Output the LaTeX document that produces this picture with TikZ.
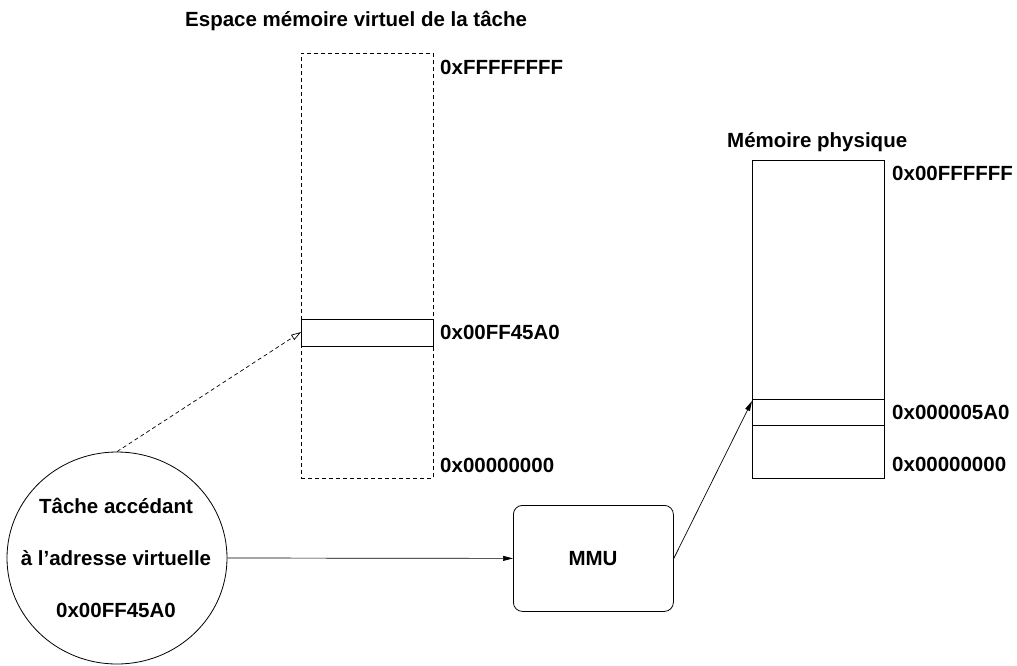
\documentclass[tikz,border=0pt]{standalone}
\usepackage{fontspec}
\setmainfont{Liberation Sans}
\usetikzlibrary{arrows.meta,shapes.geometric}
\tikzset{
  lbl/.style={inner sep=0pt, anchor=base west, font=\fontsize{20.5}{24}\selectfont\bfseries},
  ctxt/.style={inner sep=0pt, anchor=base, font=\fontsize{20.5}{24}\selectfont\bfseries},
  memline/.style={line width=0.8pt},
  dashline/.style={line width=0.8pt, dash pattern=on 4pt off 3pt},
  conn/.style={line width=0.7pt, -{Triangle[length=10pt,width=5pt]}},
}
\begin{document}
\begin{tikzpicture}[x=1pt,y=-1pt]
\useasboundingbox (0,0) rectangle (1017,665);
% virtual space
\node[draw, dashline, minimum width=132pt, minimum height=425pt, inner sep=0pt, anchor=north west] (vbox) at (301,53) {};
\node[draw, memline, minimum width=132pt, minimum height=27pt, inner sep=0pt, anchor=north west] (vblk) at (301,319) {};
\node[lbl] (vtitle) at (185,26) {Espace mémoire virtuel de la tâche};
\node[lbl] (vtop) at (440,74) {0xFFFFFFFF};
\node[lbl] (vmid) at (440,339) {0x00FF45A0};
\node[lbl] (vbot) at (440,472) {0x00000000};
% physical memory
\node[draw, memline, minimum width=132pt, minimum height=318pt, inner sep=0pt, anchor=north west] (pbox) at (752,160) {};
\node[draw, memline, minimum width=132pt, minimum height=26pt, inner sep=0pt, anchor=north west] (pblk) at (752,399) {};
\node[lbl] (ptitle) at (727,147) {Mémoire physique};
\node[lbl] (ptop) at (892,180) {0x00FFFFFF};
\node[lbl] (pmid) at (892,419) {0x000005A0};
\node[lbl] (pbot) at (892,471) {0x00000000};
% task
\node[draw, memline, ellipse, minimum width=220pt, minimum height=212pt, inner sep=0pt] (task) at (117,558) {};
\node[ctxt] (t1) at (116,513) {Tâche accédant};
\node[ctxt] (t2) at (116,565) {à l’adresse virtuelle};
\node[ctxt] (t3) at (116,617) {0x00FF45A0};
% MMU
\node[draw, memline, rounded corners=9pt, minimum width=160pt, minimum height=106pt, inner sep=0pt, anchor=north west] (mmu) at (513,505) {};
\node[ctxt] (mmut) at (593,565) {MMU};
% connectors
\coordinate (vtip) at (301,332);
\coordinate (ptip) at (752,401);
\draw[line width=0.7pt, dash pattern=on 4pt off 3pt, -{Triangle[open,length=10pt,width=6pt]}] (task.north) -- (vtip);
\draw[conn] (task.east) -- (mmu.west);
\draw[conn] (mmu.east) -- (ptip);
\end{tikzpicture}
\end{document}
